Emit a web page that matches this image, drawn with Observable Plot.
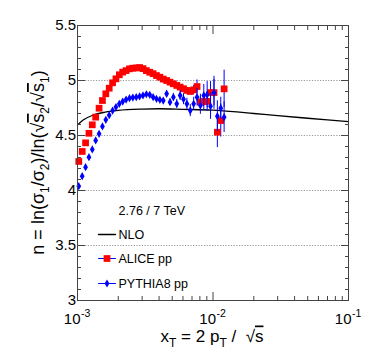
<!DOCTYPE html>
<html><head><meta charset="utf-8">
<script src="https://cdn.jsdelivr.net/npm/d3@7"></script>
<script src="https://cdn.jsdelivr.net/npm/@observablehq/plot@0.6"></script>
<style>body{margin:0;background:#fff}</style>
</head><body><div id="chart"></div>
<script>
const xT = [0.001022, 0.001083, 0.001147, 0.001215, 0.001286, 0.001362, 0.001443, 0.001528, 0.001618, 0.001714, 0.001815, 0.001922, 0.002036, 0.002156, 0.002284, 0.002419, 0.002561, 0.002713, 0.002873, 0.003043, 0.003223, 0.003413, 0.003615, 0.003828, 0.004054, 0.004294, 0.004548, 0.004816, 0.005101, 0.005402, 0.005721, 0.006059, 0.006417, 0.006796, 0.007198, 0.007623, 0.008073, 0.008550, 0.009055, 0.009590, 0.01017, 0.01077, 0.01141, 0.01208];
const alice = [4.264, 4.355, 4.433, 4.52, 4.597, 4.667, 4.748, 4.818, 4.879, 4.93, 4.979, 5.015, 5.052, 5.076, 5.09, 5.106, 5.112, 5.114, 5.118, 5.108, 5.09, 5.075, 5.062, 5.045, 5.03, 5.013, 5.0, 4.985, 4.97, 4.955, 4.94, 4.925, 4.91, 4.9, 4.915, 4.945, 4.805, 4.81, 4.81, 4.89, 4.89, 4.53, 4.636, 4.924];
const aliceErr = [0,0,0,0,0,0,0,0,0,0,0,0,0,0,0,0,0,0,0,0,0,0,0,0,0,0, 0.01,0.01,0.015,0.015,0.02,0.02,0.025,0.03, 0.04,0.06,0.07,0.08,0.09,0.1,0.12,0.14,0.15,0.17];
const pythia = [4.039, 4.13, 4.212, 4.303, 4.373, 4.455, 4.515, 4.582, 4.643, 4.685, 4.727, 4.758, 4.788, 4.809, 4.827, 4.839, 4.845, 4.848, 4.855, 4.864, 4.875, 4.87, 4.848, 4.833, 4.824, 4.818, 4.879, 4.803, 4.848, 4.788, 4.864, 4.83, 4.788, 4.727, 4.788, 4.848, 4.773, 4.864, 4.87, 4.767, 4.888, 4.676, 4.748, 4.667];
const pythiaErr = [0,0,0,0,0,0,0,0,0,0,0,0,0,0,0,0,0,0,0,0, 0.01,0.01,0.015,0.015,0.02,0.02, 0.03,0.03,0.035,0.04,0.045,0.05,0.05,0.055, 0.06,0.08,0.08,0.1,0.12,0.12,0.15,0.14,0.1,0.14];
const nloX = [0.001, 0.0011, 0.0013, 0.0016, 0.002, 0.003, 0.004, 0.006, 0.01, 0.015, 0.02, 0.03, 0.05, 0.07, 0.1];
const nloY = [4.595, 4.64, 4.685, 4.712, 4.728, 4.74, 4.743, 4.738, 4.73, 4.714, 4.70, 4.68, 4.657, 4.642, 4.627];
const yTicks = [3, 3.5, 4, 4.5, 5, 5.5];
const yMinorTicks = [3.1,3.2,3.3,3.4,3.6,3.7,3.8,3.9,4.1,4.2,4.3,4.4,4.6,4.7,4.8,4.9,5.1,5.2,5.3,5.4];
const yGrid = [3.5, 4, 4.5, 5];
const xMajorTicks = [0.001, 0.01, 0.1];
const xMinorTicks = [0.002,0.003,0.004,0.005,0.006,0.007,0.008,0.009,0.02,0.03,0.04,0.05,0.06,0.07,0.08,0.09];
const xTickBase = ["10", "10", "10"];
const xTickExp = ["-3", "-2", "-1"];
const legendLabels = ["2.76 / 7 TeV", "NLO", "ALICE pp", "PYTHIA8 pp"];

const RED = "#ff0000", BLUE = "#0000ff", AX = "#444";
const alicePts = xT.map((x, i) => ({x, y: alice[i], e: aliceErr[i]}));
const pythiaPts = xT.map((x, i) => ({x, y: pythia[i], e: pythiaErr[i]}));
const nlo = nloX.map((x, i) => ({x, y: nloY[i]}));
const xMaj = xMajorTicks.map((v, i) => ({v, b: xTickBase[i], e: xTickExp[i]}));
const lineShape = {draw(ctx, l) { ctx.moveTo(0, 0); ctx.lineTo(0, -l); }};

const tickAxes = [];
for (const anchor of ["left", "right"]) {
  tickAxes.push(Plot.axisY(yTicks, {anchor, tickSize: -8, fill: "none", stroke: AX, label: null}));
  tickAxes.push(Plot.axisY(yMinorTicks, {anchor, tickSize: -4, fill: "none", stroke: AX, label: null}));
}
for (const anchor of ["bottom", "top"]) {
  tickAxes.push(Plot.axisX(xMajorTicks, {anchor, tickSize: -8, fill: "none", stroke: AX, label: null}));
  tickAxes.push(Plot.axisX(xMinorTicks, {anchor, tickSize: -4, fill: "none", stroke: AX, label: null}));
}

const svg = Plot.plot({
  width: 374, height: 357,
  marginLeft: 77, marginRight: 26, marginTop: 25, marginBottom: 57,
  x: {type: "log", domain: [1e-3, 1e-1]},
  y: {domain: [3, 5.5]},
  style: {fontFamily: "'Liberation Sans', Arial, sans-serif", fontSize: "15px", background: "white", overflow: "visible", color: "black"},
  marks: [
    Plot.ruleY(yGrid, {stroke: "#999", strokeDasharray: "1.2,1.5"}),
    Plot.line(nlo, {x: "x", y: "y", curve: "monotone-x", stroke: "black", strokeWidth: 1.3}),
    Plot.ruleX(alicePts.filter(d => d.e > 0), {x: "x", y1: d => d.y - d.e, y2: d => d.y + d.e, stroke: BLUE, strokeWidth: 1}),
    Plot.dot(alicePts, {x: "x", y: "y", symbol: "square", r: 3.8, fill: RED, stroke: "none"}),
    Plot.ruleX(pythiaPts.filter(d => d.e > 0), {x: "x", y1: d => d.y - d.e, y2: d => d.y + d.e, stroke: BLUE, strokeWidth: 1}),
    Plot.dot(pythiaPts, {x: "x", y: "y", symbol: "diamond", r: 2.5, fill: BLUE, stroke: "none"}),
    Plot.frame({stroke: AX}),
    ...tickAxes,
    Plot.axisY(yTicks, {anchor: "left", tickSize: 0, tickPadding: 1.5, fontSize: 15, label: null, tickFormat: d => String(d)}),
    Plot.text(xMaj, {x: "v", frameAnchor: "bottom", text: "b", textAnchor: "end", lineAnchor: "middle", dx: 3, dy: 19, fontSize: 15}),
    Plot.text(xMaj, {x: "v", frameAnchor: "bottom", text: "e", textAnchor: "start", lineAnchor: "middle", dx: 3.5, dy: 13, fontSize: 10.5}),
    // legend
    Plot.text([legendLabels[0]], {frameAnchor: "bottom-left", dx: 41, dy: -90, textAnchor: "start", lineAnchor: "middle", fontSize: 12.5}),
    Plot.vector([0], {frameAnchor: "bottom-left", dx: 21, dy: -66, rotate: 90, length: 17, anchor: "start", shape: lineShape, stroke: "black", strokeWidth: 1.3}),
    Plot.text([legendLabels[1]], {frameAnchor: "bottom-left", dx: 41, dy: -66, textAnchor: "start", lineAnchor: "middle", fontSize: 12.5}),
    Plot.vector([0], {frameAnchor: "bottom-left", dx: 21, dy: -42, rotate: 90, length: 17, anchor: "start", shape: lineShape, stroke: BLUE, strokeWidth: 1}),
    Plot.dot([0], {frameAnchor: "bottom-left", dx: 29.5, dy: -42, symbol: "square", r: 3.8, fill: RED, stroke: "none"}),
    Plot.text([legendLabels[2]], {frameAnchor: "bottom-left", dx: 41, dy: -42, textAnchor: "start", lineAnchor: "middle", fontSize: 12.5}),
    Plot.vector([0], {frameAnchor: "bottom-left", dx: 21, dy: -17, rotate: 90, length: 17, anchor: "start", shape: lineShape, stroke: BLUE, strokeWidth: 1}),
    Plot.dot([0], {frameAnchor: "bottom-left", dx: 29.5, dy: -17, symbol: "diamond", r: 2.5, fill: BLUE, stroke: "none"}),
    Plot.text([legendLabels[3]], {frameAnchor: "bottom-left", dx: 41, dy: -17, textAnchor: "start", lineAnchor: "middle", fontSize: 12.5})
  ]
});

// axis titles with sub/superscripts
const s = d3.select(svg);
const SUB = 12;
function addParts(t, parts) {
  let shift = 0;
  for (const p of parts) {
    const target = p.sub ? 5 : 0;
    const ts = t.append("tspan").text(p.t).attr("dy", target - shift);
    shift = target;
    if (p.sub) ts.attr("font-size", SUB);
    if (p.over) ts.style("text-decoration", "overline");
  }
}
const xt = s.append("text").attr("x", 212).attr("y", 341.5).attr("text-anchor", "middle")
  .attr("font-size", 17).attr("fill", "black");
addParts(xt, [{t: "x"}, {t: "T", sub: 1}, {t: " = 2 p"}, {t: "T", sub: 1}, {t: " /  √"}, {t: "s", over: 1}]);

const yt = s.append("text").attr("transform", "translate(44,162.5) rotate(-90)").attr("text-anchor", "middle")
  .attr("font-size", 18).attr("fill", "black");
addParts(yt, [{t: "n = ln(σ"}, {t: "1", sub: 1}, {t: "/σ"}, {t: "2", sub: 1}, {t: ")/ln(√"}, {t: "s", over: 1}, {t: "2", sub: 1}, {t: "/√"}, {t: "s", over: 1}, {t: "1", sub: 1}, {t: ")"}]);

document.getElementById("chart").appendChild(svg);
</script>
</body></html>
